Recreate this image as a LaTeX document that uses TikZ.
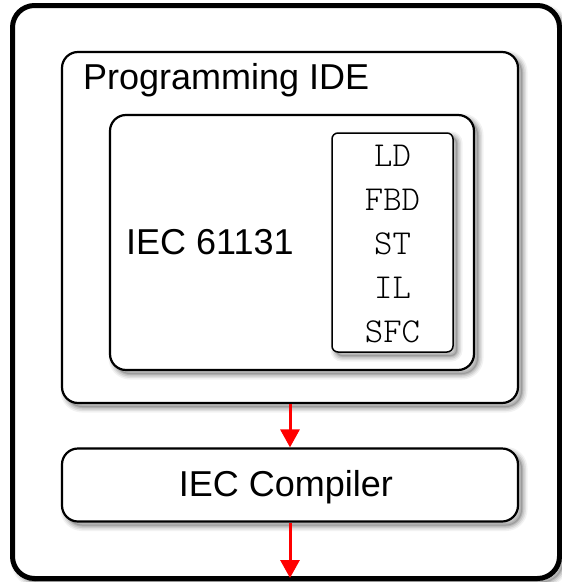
\documentclass[tikz,border=0pt]{standalone}
\usepackage{fontspec}
\setmainfont{Liberation Sans}
\newfontfamily\codefont{Latin Modern Mono Light}
\usetikzlibrary{arrows.meta}
\begin{document}
\begin{tikzpicture}[x=1pt,y=-1pt,
  softshadow/.style={
    preaction={draw=black,line width=11pt,opacity=0.05,transform canvas={shift={(4pt,-4pt)}}},
    preaction={draw=black,line width=8pt,opacity=0.07,transform canvas={shift={(4pt,-4pt)}}},
    preaction={draw=black,line width=5pt,opacity=0.09,transform canvas={shift={(4pt,-4pt)}}},
    preaction={draw=black,line width=2pt,fill=black,opacity=0.12,transform canvas={shift={(4pt,-4pt)}}}},
  panel/.style={draw=black,line width=2.2pt,fill=white,rounded corners=16pt,softshadow},
  langbox/.style={draw=black,line width=1.5pt,fill=white,rounded corners=6pt,softshadow},
  flow/.style={draw=red,line width=3pt,-{Triangle[width=19pt,length=18pt]}},
  lbl/.style={font=\fontsize{36}{40}\selectfont},
  code/.style={font=\codefont\fontsize{35}{38}\selectfont}]
\useasboundingbox (0,0) rectangle (562,582);
% outer box
\node[draw=black,line width=5pt,fill=white,rounded corners=22pt,minimum width=547pt,minimum height=573pt,inner sep=0pt,softshadow] (outer) at (286,292) {};
% Programming IDE
\node[panel,minimum width=456pt,minimum height=351pt,inner sep=0pt] (ide) at (290,227.5) {};
\node[lbl,anchor=base west,inner sep=0pt] (idelbl) at (83,89) {Programming IDE};
% IEC 61131
\node[panel,minimum width=364pt,minimum height=255pt,inner sep=0pt] (iec) at (292,242.5) {};
\node[lbl,anchor=base west,inner sep=0pt] (iecl) at (126,254) {IEC 61131};
% languages
\node[langbox,minimum width=121pt,minimum height=219pt,inner sep=0pt] (lang) at (392.5,242.5) {};
\node[code,anchor=base] (ld) at (392.5,166) {LD};
\node[code,anchor=base] (fbd) at (392.5,210) {FBD};
\node[code,anchor=base] (st) at (392.5,254) {ST};
\node[code,anchor=base] (il) at (392.5,298) {IL};
\node[code,anchor=base] (sfc) at (392.5,342) {SFC};
% compiler
\node[panel,minimum width=456pt,minimum height=73pt,inner sep=0pt] (comp) at (290,485) {};
\node[lbl,anchor=base,inner sep=0pt] (compl) at (286,496) {IEC Compiler};
% arrows
\coordinate (out) at (290,578);
\draw[flow] (ide.south) -- (comp.north);
\draw[flow] (comp.south) -- (out);
\end{tikzpicture}
\end{document}
